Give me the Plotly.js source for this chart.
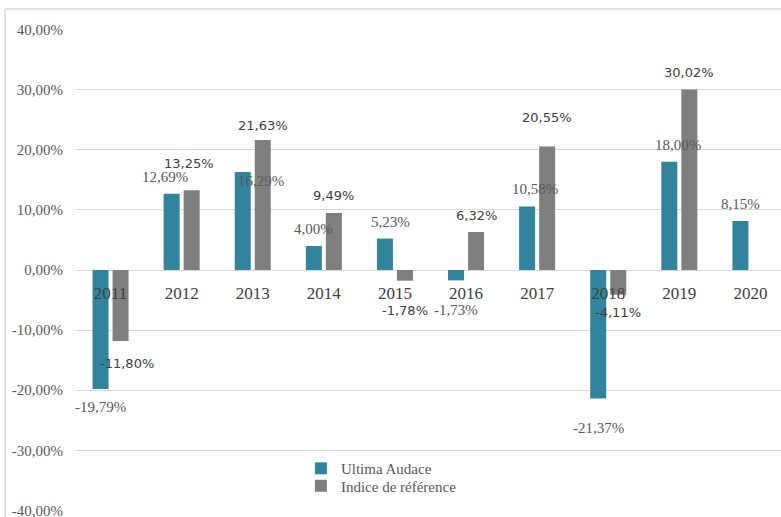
<!DOCTYPE html>
<html><head><meta charset="utf-8">
<script src="https://cdn.plot.ly/plotly-3.0.1.min.js"></script>
<style>html,body{margin:0;padding:0;background:#fff;}#chart{width:781px;height:517px;}</style>
</head><body><div id="chart"></div>
<script>
const years = ['2011','2012','2013','2014','2015','2016','2017','2018','2019','2020'];
const ultima = [-19.79, 12.69, 16.29, 4.00, 5.23, -1.73, 10.58, -21.37, 18.00, 8.15];
const indice = [-11.80, 13.25, 21.63, 9.49, -1.78, 6.32, 20.55, -4.11, 30.02, null];
const yTicks = [-40,-30,-20,-10,0,10,20,30,40];

const serif = 'Liberation Serif';
const sans = 'DejaVu Sans';
const fmt = v => v.toFixed(2).replace('.', ',') + '%';
const yTickText = yTicks.map(fmt);

// label nudges (pixels) relative to default placement, as in the original chart
const nudgeU = {2: [18, -26], 5: [0, -12], 7: [0, -12], 1: [-7, 0], 8: [9, 0], 6: [8, 0], 4: [6, 0]};
const nudgeI = {1: [-3, 10], 6: [0, 12], 0: [6, -5], 4: [0, -12], 2: [0, -2]};

const traces = [
  {type:'bar', name:'Ultima Audace', x:years, y:ultima, marker:{color:'#31849B'}, hoverinfo:'skip', legend:'legend'},
  {type:'bar', name:'Indice de référence', x:years, y:indice, marker:{color:'#7F7F7F'}, hoverinfo:'skip', legend:'legend2'}
];

const annotations = [];
function addLabels(vals, xshift, font, nudge){
  vals.forEach((v,i)=>{
    if(v===null) return;
    const n = nudge[i] || [0,0];
    annotations.push({x:i, y:v, xref:'x', yref:'y', text:fmt(v), showarrow:false,
      xshift:xshift + n[0], yshift:(v>=0 ? 17 : -18) + n[1], font:font});
  });
}
addLabels(ultima, -10, {family:serif, size:15, color:'#595959'}, nudgeU);
addLabels(indice, 10, {family:sans, size:13, color:'#404040'}, nudgeI);

const legendCommon = {xanchor:'left', yanchor:'middle', orientation:'v', bgcolor:'rgba(0,0,0,0)',
  font:{family:serif, size:15, color:'#595959'}, itemwidth:30};

const layout = {
  width:781, height:517,
  margin:{l:75, r:0, t:29, b:6},
  paper_bgcolor:'#fff', plot_bgcolor:'#fff',
  barmode:'group', bargap:0.437, bargroupgap:0.2,
  showlegend:true,
  legend:Object.assign({x:0.32, y:0.088}, legendCommon),
  legend2:Object.assign({x:0.32, y:0.052}, legendCommon),
  xaxis:{type:'category', range:[-0.5, 9.43], anchor:'free', position:0.5,
    showgrid:false, showline:false, zeroline:false, ticks:'', ticklabelstandoff:11,
    tickfont:{family:serif, size:17, color:'#404040'}},
  yaxis:{range:[-40.1, 40.1], tickmode:'array', tickvals:yTicks, ticktext:yTickText,
    showgrid:true, gridcolor:'#D9D9D9', gridwidth:1, zeroline:true, zerolinecolor:'#D9D9D9', zerolinewidth:1,
    showline:false, ticks:'', ticklabelstandoff:11, ticklabeloverflow:'allow',
    tickfont:{family:serif, size:15, color:'#595959'}},
  annotations:annotations,
  shapes:[
    {type:'line', xref:'paper', yref:'paper', x0:-0.099, x1:1.05, y0:1.0415, y1:1.0415, line:{color:'#D9D9D9', width:1.5}},
    {type:'line', xref:'paper', yref:'paper', x0:-0.099, x1:-0.099, y0:1.0415, y1:-0.05, line:{color:'#D9D9D9', width:1.5}}
  ]
};
Plotly.newPlot('chart', traces, layout, {displayModeBar:false});
</script></body></html>
